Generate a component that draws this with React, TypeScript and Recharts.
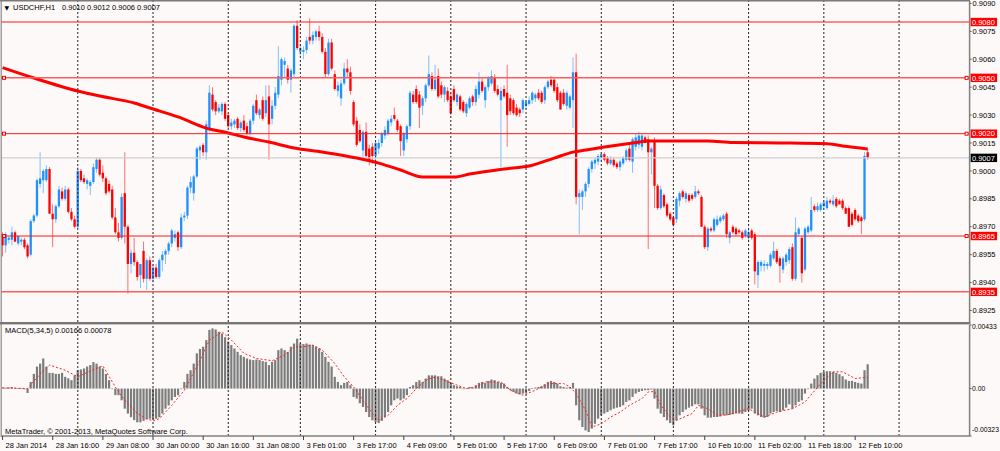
import React from 'react';
import { ComposedChart, Bar, Line, XAxis, YAxis, ReferenceLine } from 'recharts';

const FONT = "'Liberation Sans', Arial, sans-serif";
const BASE = 0.89; // prices below are in pips above 0.8900
const PIP = 0.0001;
const SLOTS = 309; // bar slots visible on the chart (incl. empty right shift)

// USDCHF H1 candles, pips above 0.8900
const opens = [
  66,60,63,63,67,61,62,63,60,55, 73,76,93,95,95,101,77,74,81,89,
  85,90,78,74,70,100,96,93,92,94, 101,106,99,96,93,90,75,67,64,88,
  70,50,56,51,44,57,42,52,42,48, 43,52,55,57,61,64,67,59,75,76,
  91,88,97,111,114,110,123,141,137,132, 132,136,130,124,125,128,123,127,124,120,
  127,138,130,138,131,140,128,135,141,149, 157,155,149,152,178,164,164,165,172,170,
  172,175,172,164,152,169,152,143,139,147, 155,153,137,127,122,111,121,112,113,108,
  112,115,119,120,126,130,127,124,111,117, 124,141,144,141,135,139,146,151,144,151,
  146,141,143,140,144,137,140,137,131,134, 140,137,141,148,138,145,147,150,144,138,
  144,142,139,138,134,133,133,135,136,138, 139,142,142,138,145,149,149,145,142,142,
  135,134,138,153,86,86,89,93,101,104, 105,107,109,107,104,106,104,102,104,106,
  112,105,113,114,113,118,117,110,116,92, 80,87,82,77,75,74,84,89,85,87,
  87,86,89,86,70,59,69,68,71,73, 74,77,64,70,69,68,67,65,64,68,
  66,44,49,49,49,49,53,57,53,47, 51,52,59,42,66,64,47,67,68,81,
  79,79,81,80,84,82,85,84,84,80, 80,77,79,76,75,74,110,
];
const highs = [
  67,67,65,70,68,65,64,64,61,74, 77,96,110,101,103,102,82,82,92,91,
  92,91,80,76,102,101,98,96,95,104, 107,107,103,97,95,92,80,72,88,110,
  71,58,64,52,50,62,53,54,50,50, 53,57,58,62,69,68,68,77,78,92,
  97,98,113,114,115,127,146,145,138,136, 137,137,131,128,128,129,127,130,126,128,
  136,141,134,140,146,146,138,145,167,161, 161,157,155,179,181,168,167,172,182,175,
  176,178,174,166,171,171,154,148,149,158, 160,156,138,129,125,122,126,114,115,116,
  117,121,124,128,130,134,128,125,121,125, 143,143,146,143,140,147,162,153,157,155,
  148,146,145,142,146,142,141,138,137,140, 141,146,153,150,146,151,154,152,146,145,
  146,157,141,139,136,134,139,138,140,143, 142,144,143,146,149,151,150,147,143,144,
  143,141,161,163,90,90,94,102,106,107, 109,110,110,108,108,107,105,106,108,112,
  114,118,120,121,120,119,119,113,118,93, 92,88,83,78,76,86,89,90,89,88,
  88,92,90,87,71,70,70,75,76,76, 77,78,68,71,70,69,68,69,69,69,
  67,52,52,52,51,56,62,58,54,54, 56,59,61,75,70,65,70,71,86,82,
  83,83,84,86,85,87,86,85,85,81, 81,78,80,77,76,110,112,
];
const lows = [
  54,56,61,60,62,60,60,58,53,54, 72,75,91,88,94,77,59,72,80,84,
  84,77,73,69,69,94,93,90,87,93, 99,97,94,87,88,74,66,62,63,61,
  34,45,49,41,37,40,36,41,40,42, 42,46,50,55,59,62,57,58,73,74,
  88,84,96,106,108,106,121,132,130,131, 130,127,123,122,123,122,121,121,119,119,
  125,130,128,127,129,106,125,133,139,146, 150,147,142,150,165,162,160,163,168,168,
  170,170,163,150,151,154,143,140,135,146, 150,141,124,113,115,107,107,103,104,102,
  109,113,117,119,124,127,121,108,108,115, 122,136,136,123,130,137,145,143,143,139,
  139,137,137,130,137,135,132,131,129,133, 135,135,139,142,134,143,146,142,140,102,
  139,113,130,130,129,129,131,133,135,136, 137,138,136,136,144,145,142,137,133,135,
  133,133,123,82,66,79,86,91,99,101, 103,105,105,103,103,102,101,100,103,105,
  105,99,111,112,111,115,58,98,80,79, 79,80,75,73,70,72,81,85,83,83,
  84,85,87,70,58,57,67,67,70,72, 73,64,61,66,65,66,63,64,62,63,
  39,37,46,46,47,48,52,50,40,45, 49,50,41,41,65,40,46,66,67,78,
  78,78,79,79,82,81,80,82,79,77, 70,70,73,72,66,73,106,
];
const closes = [
  60,66,64,67,62,65,63,59,54,73, 76,95,96,100,101,77,74,81,90,85,
  90,78,74,70,100,95,94,95,94,102, 106,98,96,88,89,75,67,64,86,70,
  50,56,51,43,50,42,52,42,48,43, 52,55,57,61,68,66,59,75,76,91,
  94,97,112,113,110,125,142,133,132,134, 136,128,124,126,127,123,126,122,120,127,
  135,131,133,128,138,125,135,142,151,160, 159,149,154,178,166,166,165,170,170,173,
  175,172,164,152,169,155,144,146,147,155, 153,143,125,114,116,121,108,106,108,115,
  115,120,122,127,128,128,122,116,120,124, 142,137,137,134,139,146,152,144,149,140,
  141,145,138,131,138,141,133,132,136,139, 137,144,148,143,145,150,151,143,141,143,
  140,130,132,131,130,131,138,137,138,142, 141,139,137,145,148,146,143,138,133,136,
  142,140,153,86,88,89,93,101,105,106, 108,109,106,104,106,103,102,105,107,111,
  106,117,118,119,119,115,110,112,92,80, 90,81,76,74,71,85,88,86,88,84,
  85,89,88,70,59,69,68,74,74,75, 76,66,67,67,66,67,64,68,67,64,
  46,51,51,50,50,55,57,51,49,53, 55,58,42,67,69,45,69,70,79,79,
  81,82,83,84,83,84,81,82,80,77, 70,71,74,73,73,108,107,
];

// Moving average (thick red line), sampled points: bar index / pips above 0.8900
const maIdx = [0,10,24,31,42,47,56,65,72,77, 85,93,102,113,120,127,134,144,149,160, 168,176,182,186,192,201,206,214,225,233, 248,263,268,276];
const maVal = [155.5,149.9,142.9,140.2,136.5,133.8,129,123,120.4,118.2, 115.5,112.3,110.1,106.9,104.2,100.5,96.7,96.7,98.3,101, 102.6,106.9,110.1,111.2,112.8,115,116.1,116.1,116.1,115.2, 115,114.6,113.4,111.8];

// MACD(5,34,5) histogram, in units of 0.001
const macdHist = [
  0.07,0.05,0.08,0.1,0.06,0.04,0.03,-0.05,-0.3,0.45, 1.0,1.5,1.7,2.05,1.5,1.07,1.07,1.0,1.0,1.07,
  0.8,0.7,0.57,0.9,1.25,1.3,1.37,1.5,1.6,1.8, 1.7,1.5,1.37,1.0,0.57,0.0,-0.45,-0.45,-0.8,-1.37,
  -1.7,-1.95,-2.15,-2.3,-2.3,-2.2,-2.1,-2.05,-2.1,-2.05, -1.95,-1.7,-1.37,-1.15,-0.8,-0.57,-0.45,0.0,0.45,1.0,
  1.25,1.7,2.4,2.7,2.85,3.3,4.0,4.1,4.03,3.87, 3.75,3.5,3.2,2.96,2.73,2.5,2.28,2.16,2.05,1.98,
  1.94,1.98,1.94,1.87,1.82,1.6,1.82,1.94,2.62,2.73, 2.62,2.5,2.85,3.07,3.4,3.07,3.03,3.07,3.0,2.96,
  2.85,2.73,2.5,2.16,1.82,1.5,0.8,0.45,0.23,0.39, 0.45,0.23,-0.57,-0.68,-1.0,-1.25,-1.6,-1.94,-2.16,-2.28,
  -2.35,-2.2,-1.94,-1.6,-1.14,-0.8,-0.68,-0.8,-0.68,-0.45, 0.11,0.23,0.45,0.57,0.45,0.68,0.9,0.9,0.9,0.84,
  0.84,0.68,0.57,0.39,0.23,0.16,0.11,0.0,0.02,0.11, 0.07,0.23,0.39,0.45,0.39,0.52,0.62,0.57,0.45,0.39,
  0.34,0.11,-0.11,-0.23,-0.34,-0.39,-0.34,-0.3,-0.16,0.02, 0.07,0.11,0.16,0.3,0.45,0.52,0.45,0.34,0.16,0.11,
  0.07,0.11,0.39,-1.14,-2.16,-2.62,-2.85,-2.96,-2.73,-2.4, -2.05,-1.82,-1.7,-1.6,-1.48,-1.37,-1.3,-1.25,-1.14,-0.91,
  -0.8,-0.57,-0.34,-0.23,-0.16,-0.11,-0.11,-0.07,-0.68,-1.37, -1.7,-1.94,-2.16,-2.35,-2.5,-2.16,-1.82,-1.6,-1.43,-1.3,
  -1.2,-1.07,-1.07,-1.37,-1.82,-1.98,-1.98,-1.94,-1.94,-1.9, -1.82,-1.82,-1.8,-1.75,-1.7,-1.7,-1.72,-1.6,-1.5,-1.37,
  -1.7,-1.82,-1.94,-1.98,-1.94,-1.7,-1.6,-1.53,-1.6,-1.48, -1.3,-1.07,-1.37,-1.14,-0.91,-0.8,-0.34,0.0,0.34,0.68,
  0.91,1.07,1.14,1.18,1.18,1.14,1.07,0.98,0.84,0.62, 0.52,0.52,0.45,0.39,0.34,1.25,1.66,
];
// MACD signal line, sampled points: bar index / value in units of 0.001
const signalIdx = [0,8,12,15,20,24,28,32,36,39, 43,46,48,50,54,58,62,66,70,73, 77,81,86,90,93,96,99,102,106,109, 112,115,118,120,123,126,129,132,135,138, 143,148,151,154,159,162,166,170,174,179, 181,183,186,188,191,194,197,200,204,206, 208,210,213,215,220,222,225,228,231,238, 243,247,252,256,261,265,268,272,276];
const signalVal = [0.05,0.0,1.0,1.6,1.25,0.8,1.2,1.55,0.1,-0.8, -1.7,-2.05,-2.2,-2.05,-1.14,-0.11,1.5,3.3,3.87,3.3, 2.4,2.05,1.9,2.28,2.85,2.85,2.96,2.62,1.7,0.8, 0.11,-0.8,-1.7,-2.16,-1.82,-1.14,-0.68,0.0,0.57,0.8, 0.39,0.0,0.11,0.45,0.45,-0.11,-0.45,-0.11,0.34,0.34, 0.11,-0.34,-1.48,-2.62,-2.4,-1.94,-1.6,-1.14,-0.68,-0.23, -0.2,-1.14,-1.94,-2.16,-1.7,-1.14,-1.37,-1.82,-1.8,-1.37, -1.94,-1.6,-1.37,-0.91,0.34,1.14,1.14,0.68,0.78];

// Time axis labels (bar index -> text)
const timeLabelIdx = [0,16,32,48,64,80,96,112,128,144,160,176,192,208,224,240,256,272];
const timeLabels = ['28 Jan 2014','28 Jan 16:00','29 Jan 08:00','30 Jan 00:00','30 Jan 16:00','31 Jan 08:00','3 Feb 01:00','3 Feb 17:00','4 Feb 09:00','5 Feb 01:00','5 Feb 17:00','6 Feb 09:00','7 Feb 01:00','7 Feb 17:00','10 Feb 10:00','11 Feb 02:00','11 Feb 18:00','12 Feb 10:00'];
// Day separators (bar index of first bar of each day)
const daySepIdx = [24,48,72,95,119,143,167,191,214,238,262,286];

const priceTicks = [0.8925,0.894,0.8955,0.897,0.8985,0.9,0.9015,0.903,0.9045,0.906,0.9075,0.909];
const priceDomain = [0.89188, 0.90913];
const levelPrices = [0.908, 0.905, 0.902, 0.8965, 0.8935];
const levelHasMarkers = [false, true, true, true, false];
const macdTicks = [-0.00323, 0, 0.00433];
const macdDomain = [-0.00323, 0.00433];

const N = opens.length;
const rows: any[] = Array.from({ length: SLOTS }, (_, i) => {
  const r: any = { i };
  if (i < N) {
    r.o = BASE + opens[i] * PIP;
    r.h = BASE + highs[i] * PIP;
    r.l = BASE + lows[i] * PIP;
    r.c = BASE + closes[i] * PIP;
    r.hl = [r.l, r.h];
    r.macd = macdHist[i] / 1000;
  }
  return r;
});
maIdx.forEach((k, j) => { rows[k].ma = BASE + maVal[j] * PIP; });
signalIdx.forEach((k, j) => { rows[k].sig = signalVal[j] / 1000; });

const last = rows[N - 1];
const f4 = (v: number) => v.toFixed(4);

const Candle = (props: any) => {
  const { x, y, width, height, payload } = props;
  if (!payload || payload.o == null || x == null || isNaN(y)) return null;
  const { o, h, l, c } = payload;
  const top = Math.min(y, y + height);
  const hgt = Math.abs(height);
  const cx = x + width / 2;
  const rng = h - l;
  const py = (v: number) => (rng === 0 ? top : top + ((h - v) / rng) * hgt);
  const up = c >= o;
  const color = up ? '#1e90ff' : '#ff0000';
  const bt = py(Math.max(o, c));
  const bb = py(Math.min(o, c));
  return (
    <g>
      <line x1={cx} x2={cx} y1={top} y2={top + hgt} stroke={color} strokeOpacity={0.55} strokeWidth={1} />
      <rect x={cx - 1.15} y={bt} width={2.3} height={Math.max(1, bb - bt)} fill={color} />
    </g>
  );
};

const HistBar = (props: any) => {
  const { x, y, width, height } = props;
  if (x == null || y == null || isNaN(y) || height == null) return null;
  const top = Math.min(y, y + height);
  const hgt = Math.abs(height);
  const cx = x + width / 2;
  return <rect x={cx - 1.1} y={top} width={2.2} height={Math.max(hgt, 0.6)} fill="#7c7c7c" />;
};

const PriceTag = (props: any) => {
  const { viewBox, text, color, markers, lineColor } = props;
  if (!viewBox) return null;
  const { x, y, width } = viewBox;
  const right = x + width;
  return (
    <g>
      {markers && <rect x={x + 1.5} y={y - 1.5} width={3} height={3} fill="#fff" stroke={lineColor} strokeWidth={1} />}
      {markers && <rect x={right - 4.5} y={y - 1.5} width={3} height={3} fill="#fff" stroke={lineColor} strokeWidth={1} />}
      <rect x={right + 1} y={y - 4.2} width={26.5} height={8.4} fill={color} />
      <text x={right + 2.3} y={y + 2.8} fontSize={7.5} fill="#fff" fontFamily={FONT}>{text}</text>
    </g>
  );
};

const TimeTick = (props: any) => {
  const { x, y, payload } = props;
  const k = timeLabelIdx.indexOf(Number(payload.value));
  if (k < 0) return null;
  return (
    <g>
      <line x1={x} x2={x} y1={y} y2={y + 4} stroke="#404040" strokeWidth={1} />
      <text x={x + 3} y={y + 11.5} fontSize={7.5} fill="#000" fontFamily={FONT}>{timeLabels[k]}</text>
    </g>
  );
};

const MacdTick = (props: any) => {
  const { x, y, payload } = props;
  const v = Number(payload.value);
  const label = v === 0 ? '0.00' : v.toFixed(5);
  const dy = v < 0 ? -6 : v > 0 ? 1.5 : 0;
  return (
    <text x={x - 0.5} y={y + dy} dy="0.355em" fontSize={6.8} fill="#000" fontFamily={FONT} textAnchor="start">{label}</text>
  );
};

const levelStroke = (k: number) => (k === 1 || k === 4 ? '#ff5c5c' : '#ff1a1a');

export default function App() {
  return (
    <div style={{ position: 'absolute', left: 0, top: 0, width: 1000, height: 451, background: '#fcf9f8', fontFamily: FONT, overflow: 'hidden' }}>
      <div style={{ position: 'absolute', left: 0, top: 0 }}>
        <ComposedChart width={1000} height={323} data={rows} margin={{ top: 1, right: 0, bottom: 1, left: 1 }} barCategoryGap={0} barGap={0}>
          <XAxis dataKey="i" type="category" hide />
          <YAxis
            orientation="right"
            width={30.4}
            type="number"
            domain={priceDomain}
            allowDataOverflow
            ticks={priceTicks}
            interval={0}
            tickSize={2}
            tickMargin={1}
            tickLine={{ stroke: '#606060' }}
            axisLine={{ stroke: '#808080', strokeWidth: 1.5 }}
            tick={{ fontSize: 7.5, fill: '#000', fontFamily: FONT }}
            tickFormatter={(v: number) => v.toFixed(4)}
          />
          {daySepIdx.map((g) => (
            <ReferenceLine key={'g' + g} x={g} stroke="#222" strokeDasharray="2 2" strokeWidth={1} />
          ))}
          <ReferenceLine y={last.c} stroke="#cfcfcf" strokeWidth={1.2} label={<PriceTag text={f4(last.c)} color="#000" markers={false} />} />
          <Bar dataKey="hl" isAnimationActive={false} shape={(p: any) => <Candle {...p} />} />
          <Line dataKey="ma" type="monotone" connectNulls stroke="#ff0000" strokeWidth={3} dot={false} activeDot={false} isAnimationActive={false} />
          {levelPrices.map((p, k) => (
            <ReferenceLine
              key={'l' + k}
              y={p}
              stroke={levelStroke(k)}
              strokeWidth={k === 1 || k === 4 ? 1.5 : 1}
              label={<PriceTag text={f4(p)} color="#ff0000" markers={levelHasMarkers[k]} lineColor="#ff0000" />}
            />
          ))}
        </ComposedChart>
      </div>
      <div style={{ position: 'absolute', left: 0, top: 323 }}>
        <ComposedChart width={1000} height={128} data={rows} margin={{ top: 2, right: 0, bottom: 0, left: 1 }} barCategoryGap={0} barGap={0}>
          <XAxis
            dataKey="i"
            type="category"
            ticks={timeLabelIdx}
            interval={0}
            height={15}
            tickLine={false}
            tickSize={0}
            tickMargin={0}
            axisLine={{ stroke: '#808080', strokeWidth: 1.5 }}
            tick={(p: any) => <TimeTick {...p} />}
          />
          <YAxis
            orientation="right"
            width={30.4}
            type="number"
            domain={macdDomain}
            allowDataOverflow
            ticks={macdTicks}
            interval={0}
            tickSize={2}
            tickMargin={1}
            tickLine={{ stroke: '#606060' }}
            axisLine={{ stroke: '#808080', strokeWidth: 1.5 }}
            tick={(p: any) => <MacdTick {...p} />}
          />
          {daySepIdx.map((g) => (
            <ReferenceLine key={'m' + g} x={g} stroke="#222" strokeDasharray="2 2" strokeWidth={1} />
          ))}
          <Bar dataKey="macd" isAnimationActive={false} shape={(p: any) => <HistBar {...p} />} />
          <Line dataKey="sig" type="linear" connectNulls stroke="#ff2020" strokeWidth={1} strokeDasharray="2 2" dot={false} activeDot={false} isAnimationActive={false} />
        </ComposedChart>
      </div>
      <svg width={1000} height={451} style={{ position: 'absolute', left: 0, top: 0, pointerEvents: 'none' }}>
        <line x1={0} x2={970} y1={0.8} y2={0.8} stroke="#7a7a7a" strokeWidth={1.6} />
        <line x1={1.2} x2={1.2} y1={0} y2={437} stroke="#8a8a8a" strokeWidth={1.2} />
        <rect x={0} y={322} width={970.5} height={2.4} fill="#767676" />
        <text x={4.5} y={9.6} fontSize={6} fill="#000" fontFamily="'DejaVu Sans', sans-serif">▼</text>
        <text x={13} y={9.8} fontSize={7.5} fill="#000" fontFamily={FONT}>USDCHF,H1</text>
        <text x={62} y={9.8} fontSize={7.5} fill="#000" fontFamily={FONT}>{`${f4(last.o)} ${f4(last.h)} ${f4(last.l)} ${f4(last.c)}`}</text>
        <text x={5} y={332.5} fontSize={7.5} fill="#000" fontFamily={FONT}>{`MACD(5,34,5) ${last.macd.toFixed(5)} ${(signalVal[signalVal.length - 1] / 1000).toFixed(5)}`}</text>
        <text x={5} y={433.5} fontSize={7.5} fill="#000" fontFamily={FONT}>MetaTrader, © 2001-2013, MetaQuotes Software Corp.</text>
      </svg>
    </div>
  );
}
